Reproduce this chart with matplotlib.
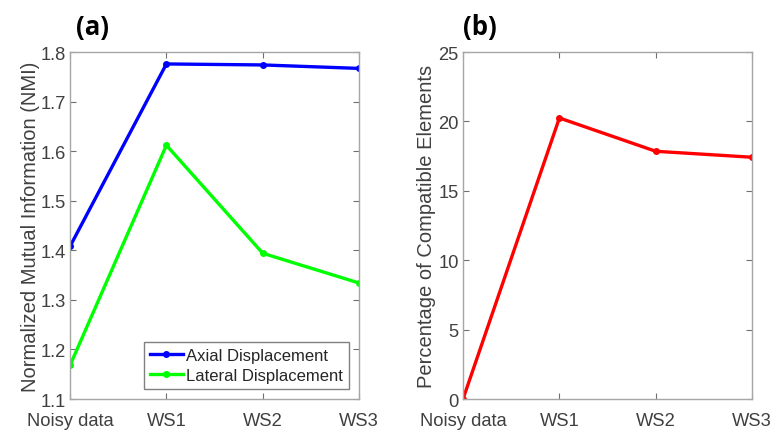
import matplotlib
matplotlib.use('Agg')
import matplotlib.pyplot as plt

plt.rcParams['font.family'] = ['Liberation Sans', 'DejaVu Sans']

cats = ['Noisy data', 'WS1', 'WS2', 'WS3']
axial = [1.408, 1.776, 1.774, 1.767]
lateral = [1.168, 1.612, 1.394, 1.334]
compat = [0.0, 20.25, 17.85, 17.42]

txt = '#404040'
edge = '#a6a6a6'

fig = plt.figure(figsize=(7.73, 4.31), dpi=100)
ax1 = fig.add_axes([0.0906, 0.0719, 0.374, 0.805])
ax2 = fig.add_axes([0.599, 0.0719, 0.374, 0.805])

x = range(len(cats))
ax1.plot(x, axial, color='#0000ff', lw=2.4, marker='o', ms=4, label='Axial Displacement')
ax1.plot(x, lateral, color='#00ff00', lw=2.4, marker='o', ms=4, label='Lateral Displacement')
ax1.set_ylim(1.1, 1.8)
ax1.set_yticks([1.1, 1.2, 1.3, 1.4, 1.5, 1.6, 1.7, 1.8])
ax1.set_ylabel('Normalized Mutual Information (NMI)', fontsize=14.5, color=txt, labelpad=0)
leg = ax1.legend(loc='lower right', fontsize=12, handlelength=2.0, borderaxespad=0.6,
                 fancybox=False, framealpha=1, borderpad=0.35, labelspacing=0.32,
                 handletextpad=0.2)
leg.get_frame().set_edgecolor('#808080')
for t in leg.get_texts():
    t.set_color('#262626')

ax2.plot(x, compat, color='#ff0000', lw=2.4, marker='o', ms=4)
ax2.set_ylim(0, 25)
ax2.set_yticks([0, 5, 10, 15, 20, 25])
ax2.set_ylabel('Percentage of Compatible Elements', fontsize=14.5, color=txt, labelpad=2)

for ax in (ax1, ax2):
    ax.set_xlim(0, len(cats) - 1)
    ax.set_xticks(list(x))
    ax.set_xticklabels(cats)
    ax.tick_params(direction='in', top=True, right=True, labelsize=13.2,
                   colors=txt, length=4, width=0.8, pad=3)
    ax.tick_params(axis='x', pad=9)
    for s in ax.spines.values():
        s.set_color(edge)
        s.set_linewidth(1.0)
    ax.tick_params(axis='both', which='both', color='#707070')

fig.text(0.12, 0.937, '(a)', fontsize=18.5, fontweight='bold', ha='center', va='center',
         family=['Open Sans', 'DejaVu Sans'], color='black')
fig.text(0.621, 0.937, '(b)', fontsize=18.5, fontweight='bold', ha='center', va='center',
         family=['Open Sans', 'DejaVu Sans'], color='black')

fig.savefig('out.png', dpi=100)
